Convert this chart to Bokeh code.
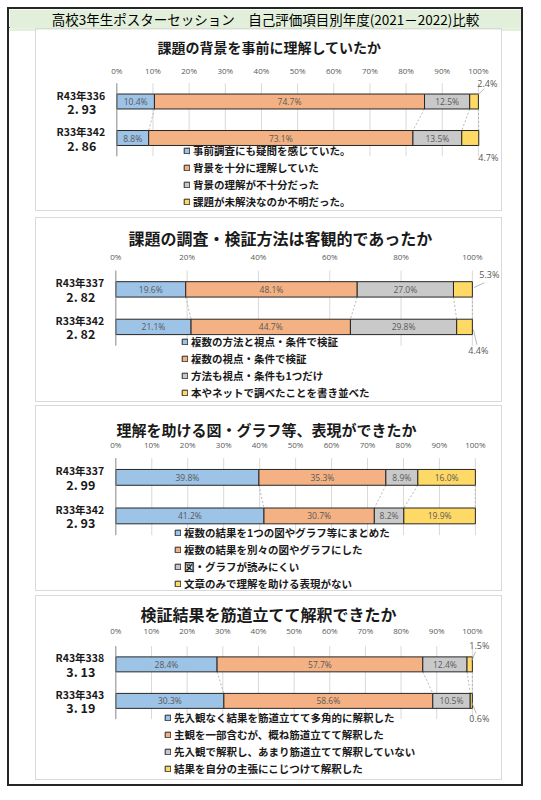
from bokeh.plotting import figure
from bokeh.models import ColumnDataSource, Range1d, FixedTicker, PrintfTickFormatter
from bokeh.layouts import column
from bokeh.embed import file_html
from bokeh.resources import INLINE
from bokeh.core.properties import value

# ---------------- data ----------------
MAIN_TITLE = "高校3年生ポスターセッション　自己評価項目別年度(2021－2022)比較"

TITLES = ["課題の背景を事前に理解していたか",
          "課題の調査・検証方法は客観的であったか",
          "理解を助ける図・グラフ等、表現ができたか",
          "検証結果を筋道立てて解釈できたか"]

CAT_R4 = ["R43年336", "R43年337", "R43年337", "R43年338"]
CAT_R3 = ["R33年342", "R33年342", "R33年342", "R33年343"]
SCORE_R4 = ["2. 93", "2. 82", "2. 99", "3. 13"]
SCORE_R3 = ["2. 86", "2. 82", "2. 93", "3. 19"]

Q1_R4 = [10.4, 74.7, 12.5, 2.4]
Q1_R3 = [8.8, 73.1, 13.5, 4.7]
Q2_R4 = [19.6, 48.1, 27.0, 5.3]
Q2_R3 = [21.1, 44.7, 29.8, 4.4]
Q3_R4 = [39.8, 35.3, 8.9, 16.0]
Q3_R3 = [41.2, 30.7, 8.2, 19.9]
Q4_R4 = [28.4, 57.7, 12.4, 1.5]
Q4_R3 = [30.3, 58.6, 10.5, 0.6]

LEG1 = ["事前調査にも疑問を感じていた。", "背景を十分に理解していた",
        "背景の理解が不十分だった", "課題が未解決なのか不明だった。"]
LEG2 = ["複数の方法と視点・条件で検証", "複数の視点・条件で検証",
        "方法も視点・条件も1つだけ", "本やネットで調べたことを書き並べた"]
LEG3 = ["複数の結果を1つの図やグラフ等にまとめた", "複数の結果を別々の図やグラフにした",
        "図・グラフが読みにくい", "文章のみで理解を助ける表現がない"]
LEG4 = ["先入観なく結果を筋道立てて多角的に解釈した", "主観を一部含むが、概ね筋道立てて解釈した",
        "先入観で解釈し、あまり筋道立てて解釈していない", "結果を自分の主張にこじつけて解釈した"]

TICK_STEP = [10, 20, 10, 10]

DATA_R4 = [Q1_R4, Q2_R4, Q3_R4, Q4_R4]
DATA_R3 = [Q1_R3, Q2_R3, Q3_R3, Q4_R3]
LEGENDS = [LEG1, LEG2, LEG3, LEG4]

# ---------------- style ----------------
COLORS = ["#9DC3E6", "#F4B183", "#C9C9C9", "#FFD966"]
JP = "Noto Sans CJK JP"
NUM = "Open Sans"
BAR_H = 0.41
W_INNER = 512
W_BOX = 467          # panel box incl. 1px css border
CANVAS_W = W_BOX - 2

# positions in px relative to each panel's canvas (inside its 1px border)
STYLE = [
    dict(mt=0, mb=0, box_h=183, x0=80, x100=440, yc=70.0, cat=36.5, mbt=46,
         tsize="14px", toff=121, tstand=10, leg=(147, 3.5),
         out_top=(9, -18), out_bot=(10, 19.5),
         lead_top=((0, -7), (6, -13)), lead_bot=None),
    dict(mt=6, mb=0, box_h=185, x0=79, x100=434, yc=70.5, cat=37.0, mbt=45,
         tsize="16px", toff=92, tstand=-4, leg=(145, 3.5),
         out_top=(17, -14.5), out_bot=(6, 23.5),
         lead_top=((1.7, -1.8), (12, -6.5)), lead_bot=((1, 2.5), (4.5, 17.5))),
    dict(mt=3, mb=0, box_h=186, x0=79, x100=437, yc=70.5, cat=38.0, mbt=45,
         tsize="15px", toff=80, tstand=-8, leg=(138, 1.5),
         out_top=(0, 0), out_bot=(0, 0), lead_top=None, lead_bot=None),
    dict(mt=4, mb=4, box_h=185, x0=79, x100=434, yc=67.5, cat=36.0, mbt=41,
         tsize="16px", toff=104, tstand=-9, leg=(128, 5.5),
         out_top=(7, -18.5), out_bot=(7, 17.5),
         lead_top=((-1, -2.5), (3, -12.5)), lead_bot=((-1, 0.5), (4, 12.5))),
]


def make_panel(k):
    st = STYLE[k]
    r4, r3 = DATA_R4[k], DATA_R3[k]
    cats = [CAT_R4[k], CAT_R3[k]]
    scores = [SCORE_R4[k], SCORE_R3[k]]
    ypos = [len(cats) - 1 - i for i in range(len(cats))]     # top category first
    H = st["box_h"] - 2
    pp = (st["x100"] - st["x0"]) / 100.0                     # px per percent
    cat = st["cat"]
    xr = Range1d(-st["x0"] / pp, (CANVAS_W - st["x0"]) / pp)
    yr = Range1d(ypos[0] - (H - st["yc"]) / cat,
                 ypos[0] + (st["yc"] - st["mbt"]) / cat)

    p = figure(width=W_BOX, height=st["box_h"], x_range=xr, y_range=yr,
               x_axis_location="above", y_axis_location=None,
               toolbar_location=None, output_backend="svg",
               min_border_left=0, min_border_right=0,
               min_border_top=st["mbt"], min_border_bottom=0,
               margin=(st["mt"], 0, st["mb"], 26),
               styles={"border": "1px solid #d9d9d9"})
    p.outline_line_color = None
    p.background_fill_color = "white"
    p.border_fill_color = "white"
    p.grid.visible = False

    ticks = list(range(0, 101, TICK_STEP[k]))
    ax = p.xaxis[0]
    ax.ticker = FixedTicker(ticks=ticks)
    ax.formatter = PrintfTickFormatter(format="%d%%")
    ax.axis_line_color = None
    ax.major_tick_in = 0
    ax.major_tick_out = 0
    ax.minor_tick_line_color = None
    ax.major_label_standoff = 2
    ax.major_label_text_font = NUM
    ax.major_label_text_font_size = "8px"
    ax.major_label_text_color = "#595959"

    p.title.text = TITLES[k]
    p.title.align = "left"
    p.title.offset = st["toff"]
    p.title.standoff = st["tstand"]
    p.title.text_font = JP
    p.title.text_font_size = st["tsize"]
    p.title.text_font_style = "bold"
    p.title.text_color = "#1a1a1a"

    # grid lines over the category band only
    ylo, yhi = min(ypos) - 0.5, max(ypos) + 0.5
    p.segment(x0=ticks[1:], y0=[ylo] * (len(ticks) - 1), x1=ticks[1:], y1=[yhi] * (len(ticks) - 1),
              line_color="#d9d9d9", line_width=1)

    # series lines between bars
    cum4, cum3 = [], []
    a = b = 0.0
    for i in range(4):
        a += r4[i]
        b += r3[i]
        cum4.append(a)
        cum3.append(b)
    p.segment(x0=cum4, y0=[ypos[0] - BAR_H / 2] * 4, x1=cum3, y1=[ypos[1] + BAR_H / 2] * 4,
              line_color="#a6a6a6", line_dash="2 2", line_width=0.8)

    stackers = ["s0", "s1", "s2", "s3"]
    src = ColumnDataSource(dict(y=ypos, **{s: [r4[i], r3[i]] for i, s in enumerate(stackers)}))
    p.hbar_stack(stackers, y="y", height=BAR_H, fill_color=COLORS, line_color="#262626",
                 line_width=1, source=src, legend_label=LEGENDS[k])

    # category axis line at 0%
    p.segment(x0=[0], y0=[ylo], x1=[0], y1=[yhi], line_color="#868686", line_width=1)

    # data labels
    ix, iy, it = [], [], []
    ox, oy, ot, oxo, oyo = [], [], [], [], []
    for yv, vals, cum, pos in ((ypos[0], r4, cum4, "top"), (ypos[1], r3, cum3, "bot")):
        for i, v in enumerate(vals):
            if v >= 6:
                ix.append(cum[i] - v / 2)
                iy.append(yv)
                it.append(f"{v:.1f}%")
            else:
                ox.append(min(cum[i], 100))
                oy.append(yv)
                ot.append(f"{v:.1f}%")
                off = st["out_" + pos]
                oxo.append(off[0])
                oyo.append(off[1])
    p.text(x=ix, y=iy, text=it, text_align="center", text_baseline="middle",
           text_font=value(NUM), text_font_size="8.5px", text_color="#595959")
    if ot:
        p.text(x=ox, y=oy, text=ot, x_offset=oxo, y_offset=oyo,
               text_align="center", text_baseline="middle",
               text_font=value(NUM), text_font_size="9px", text_color="#595959")

    # leader lines for outside labels
    lx0, ly0, lx1, ly1 = [], [], [], []
    for yv, key in ((ypos[0], "lead_top"), (ypos[1], "lead_bot")):
        ld = st[key]
        if ld is None:
            continue
        (sx0, sy0), (sx1, sy1) = ld
        lx0.append(100 + sx0 / pp)
        ly0.append(yv - sy0 / cat)
        lx1.append(100 + sx1 / pp)
        ly1.append(yv - sy1 / cat)
    if lx0:
        p.segment(x0=lx0, y0=ly0, x1=lx1, y1=ly1, line_color="#a6a6a6", line_width=0.8)

    # category labels (two lines)
    p.text(x=[0] * len(cats), y=ypos, text=cats, x_offset=-36, y_offset=-6.5,
           text_align="center", text_baseline="middle",
           text_font=value(JP), text_font_size="10.5px", text_font_style="bold",
           text_color="#1a1a1a")
    p.text(x=[0] * len(cats), y=ypos, text=scores, x_offset=-35, y_offset=7,
           text_align="center", text_baseline="middle",
           text_font=value(JP), text_font_size="12.5px", text_font_style="bold",
           text_color="#1a1a1a")

    lg = p.legend[0]
    lg.location = st["leg"]
    lg.orientation = "vertical"
    lg.label_text_font = JP
    lg.label_text_font_size = "10.5px"
    lg.label_text_font_style = "bold"
    lg.label_text_color = "#1a1a1a"
    lg.glyph_width = 7
    lg.glyph_height = 7
    lg.label_standoff = 3
    lg.label_height = 13
    lg.spacing = 2
    lg.padding = 0
    lg.margin = 0
    lg.border_line_color = None
    lg.background_fill_alpha = 0
    return p


head = figure(width=W_INNER, height=19, x_range=Range1d(0, 1), y_range=Range1d(0, 1),
              x_axis_location=None, y_axis_location=None, toolbar_location=None,
              output_backend="svg", min_border_left=0, min_border_right=0,
              min_border_top=0, min_border_bottom=0,
              styles={"border-bottom": "1px solid #262626"})
head.grid.visible = False
head.outline_line_color = None
head.background_fill_color = "#E2EFDA"
head.border_fill_color = "#E2EFDA"
head.title.text = MAIN_TITLE
head.title.align = "center"
head.title.standoff = 0
head.title.text_font = JP
head.title.text_font_size = "13.5px"
head.title.text_font_style = "normal"
head.title.text_color = "#000000"

panels = [make_panel(k) for k in range(4)]
page = column([head] + panels, spacing=0, margin=(7, 0, 0, 7),
              styles={"border": "2px solid #262626", "background-color": "white"})

open("out.html", "w").write(file_html(page, INLINE))
